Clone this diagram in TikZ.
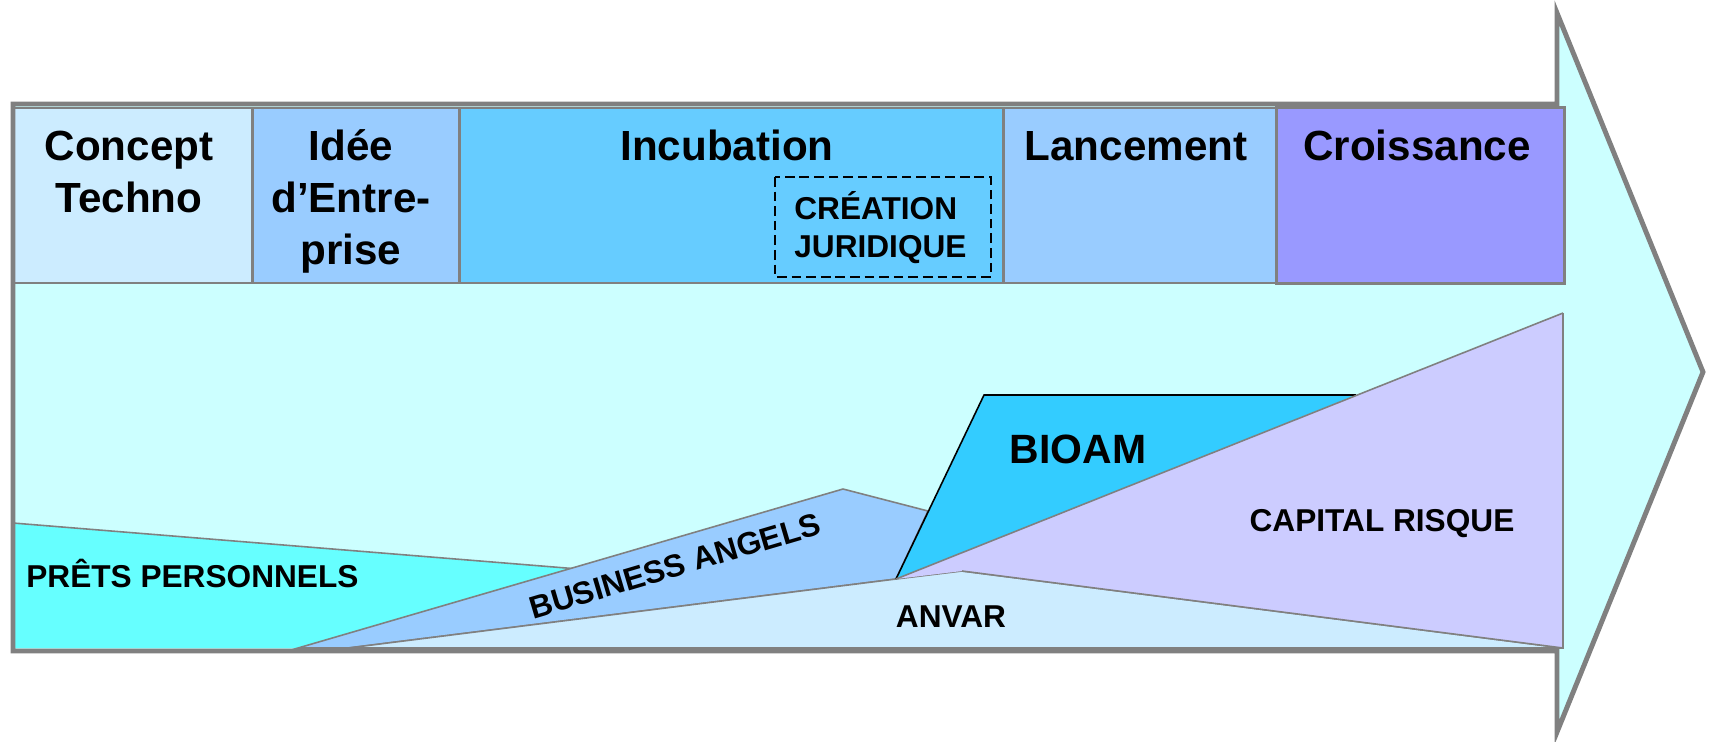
\documentclass[tikz,border=0pt]{standalone}
\usepackage{fontspec}
\setmainfont{Liberation Sans}
\definecolor{shaftfill}{HTML}{CCFFFF}
\definecolor{framegray}{HTML}{808080}
\definecolor{cconcept}{HTML}{CCECFF}
\definecolor{cidee}{HTML}{99CCFF}
\definecolor{cincub}{HTML}{66CCFF}
\definecolor{clance}{HTML}{99CCFF}
\definecolor{ccrois}{HTML}{9999FF}
\definecolor{cprets}{HTML}{66FFFF}
\definecolor{cangels}{HTML}{99CCFF}
\definecolor{canvar}{HTML}{CCECFF}
\definecolor{ccapital}{HTML}{CCCCFF}
\definecolor{cbioam}{HTML}{33CCFF}
\begin{document}
\begin{tikzpicture}[x=0.02cm,y=-0.02cm]
\tikzset{
  stagebox/.style={draw=framegray, line width=1pt, anchor=north west, inner sep=0pt},
  hdr/.style={font=\bfseries\fontsize{24}{29.5}\selectfont, align=center, anchor=base, inner sep=0pt},
  small/.style={font=\bfseries\fontsize{18}{21.5}\selectfont, inner sep=0pt},
  zone/.style={draw=framegray, line width=0.9pt, line join=miter},
}
\useasboundingbox (0,0) rectangle (1709,741);
% arrow body fill
\fill[shaftfill] (13,104) -- (1557,104) -- (1557,13) -- (1703,372) -- (1557,732) -- (1557,651) -- (13,651) -- cycle;
% stage boxes
\node[stagebox, fill=cconcept, minimum width=238*0.02cm, minimum height=175*0.02cm] (concept) at (13,107) {};
\node[stagebox, fill=cidee, minimum width=206*0.02cm, minimum height=175*0.02cm] (idee) at (252,107) {};
\node[stagebox, fill=cincub, minimum width=543*0.02cm, minimum height=175*0.02cm] (incub) at (459,107) {};
\node[stagebox, fill=clance, minimum width=272*0.02cm, minimum height=175*0.02cm] (lance) at (1003,107) {};
\node[stagebox, fill=ccrois, minimum width=287*0.02cm, minimum height=175*0.02cm] (crois) at (1276,107) {};
\node[hdr] (tconcept) at (129,212) {Concept\\Techno};
\node[hdr] (tidee) at (351,264) {Idée\\d’Entre-\\prise};
\node[hdr] (tincub) at (727,160) {Incubation};
\node[hdr] (tlance) at (1136,160) {Lancement};
\node[hdr] (tcrois) at (1417,160) {Croissance};
\draw[black, line width=0.8pt, dash pattern=on 5.5pt off 2.8pt] (775,177) rectangle (991,277);
\node[small, align=left, anchor=base west] (creation) at (794,257) {CRÉATION\\JURIDIQUE};
% financing zones
\coordinate (pa) at (13,523);
\coordinate (pb) at (640,574);
\coordinate (ba0) at (298,648);
\coordinate (bapeak) at (843,489);
\coordinate (bab) at (928,511);
\coordinate (jn) at (896,579);
\coordinate (an0) at (348,648);
\coordinate (anpeak) at (962,571);
\coordinate (anend) at (1563,648);
\coordinate (crtop) at (1563,313);
\coordinate (bitl) at (984,395);
\coordinate (bitr) at (1356,395);
\fill[cprets] (pa) -- (pb) -- (640,648) -- (13,648) -- cycle;
\draw[zone] (pa) -- (pb);
\filldraw[zone, fill=cangels] (ba0) -- (bapeak) -- (bab) -- (jn) -- (an0) -- cycle;
\filldraw[zone, fill=canvar] (an0) -- (jn) -- (anpeak) -- (anend) -- (anend |- ba0) -- cycle;
\fill[ccapital] (jn) -- (crtop) -- (anend) -- (anpeak) -- cycle;
\draw[zone] (crtop) -- (anend) -- (anpeak);
\fill[cbioam] (jn) -- (bitl) -- (bitr) -- cycle;
\draw[black, line width=0.9pt, line join=miter] (jn) -- (bitl) -- (bitr);
\draw[zone] (jn) -- (crtop);
\node[small, anchor=base west] (prets) at (26,587) {PRÊTS PERSONNELS};
\node[small, rotate=16.5] (angels) at (675,566) {BUSINESS ANGELS};
\node[font=\bfseries\fontsize{23.3}{28}\selectfont, anchor=base, inner sep=0pt] (bioam) at (1078,463) {BIOAM};
\node[small, anchor=base] (anvar) at (951,627) {ANVAR};
\node[small, anchor=base] (capital) at (1382,531) {CAPITAL RISQUE};
% arrow outline
\draw[framegray, line width=2.8pt, line join=miter] (13,104) -- (1557,104) -- (1557,13) -- (1703,372) -- (1557,732) -- (1557,651) -- (13,651) -- cycle;
% redraw stage box edges over the outline where they overlap
\draw[framegray, line width=1pt] (crois.north west) rectangle (crois.south east);
\end{tikzpicture}
\end{document}
